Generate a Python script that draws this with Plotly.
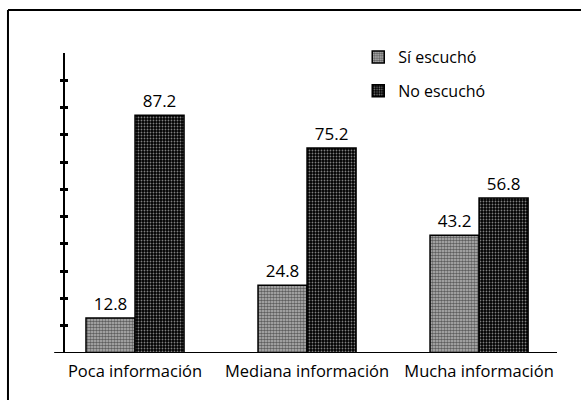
import plotly.graph_objects as go

categories = ["Poca información", "Mediana información", "Mucha información"]
si_escucho = [12.8, 24.8, 43.2]
no_escucho = [87.2, 75.2, 56.8]
series_names = ["Sí escuchó", "No escuchó"]
y_ticks = [10, 20, 30, 40, 50, 60, 70, 80, 90, 100]

FONT = "Open Sans"

fig = go.Figure()
fig.add_trace(go.Bar(
    x=categories, y=si_escucho, name=series_names[0],
    text=[f"{v:.1f}" for v in si_escucho], textposition="outside",
    textfont=dict(size=17, color="black", family=FONT),
    marker=dict(color="white", line=dict(color="black", width=1.5),
                pattern=dict(shape=".", fgcolor="black", bgcolor="#bdbdbd", size=3, solidity=0.6)),
    cliponaxis=False, legendgroup="a",
))
fig.add_trace(go.Bar(
    x=categories, y=no_escucho, name=series_names[1],
    text=[f"{v:.1f}" for v in no_escucho], textposition="outside",
    textfont=dict(size=17, color="black", family=FONT),
    marker=dict(color="black", line=dict(color="black", width=1.5),
                pattern=dict(shape=".", fgcolor="white", bgcolor="black", size=3, solidity=0.3)),
    cliponaxis=False, legendgroup="b",
))
# invisible trace to carry inside ticks on an overlaid axis
fig.add_trace(go.Scatter(x=[categories[0]], y=[0], yaxis="y2", mode="markers",
                         marker=dict(opacity=0), showlegend=False, hoverinfo="skip"))

L, R, T, B = 65, 581 - 557, 53, 47
fig.update_layout(
    width=581, height=400,
    margin=dict(l=L, r=R, t=T, b=B, pad=0, autoexpand=False),
    paper_bgcolor="white", plot_bgcolor="white",
    font=dict(family=FONT, size=16, color="black"),
    barmode="group", bargap=0.43, bargroupgap=0,
    showlegend=True,
    legend=dict(x=0.596, y=1.043, xanchor="left", yanchor="top", bgcolor="rgba(0,0,0,0)",
                font=dict(size=16, family=FONT), tracegroupgap=10, itemwidth=30),
    xaxis=dict(range=[-0.407, 2.453], showgrid=False, zeroline=False, showline=False,
               automargin=False,
               ticks="", ticklabelstandoff=6, tickfont=dict(size=16.5, family=FONT)),
    yaxis=dict(range=[0, 110], showgrid=False, zeroline=False, showline=True, automargin=False,
               linecolor="black", linewidth=1.5, tickvals=y_ticks, ticks="outside",
               ticklen=3, tickwidth=2.5, tickcolor="black", showticklabels=False),
    yaxis2=dict(range=[0, 110], overlaying="y", side="left", showgrid=False, zeroline=False,
                automargin=False,
                showline=False, tickvals=y_ticks, ticks="inside", ticklen=3, tickwidth=2.5,
                tickcolor="black", showticklabels=False),
    shapes=[
        dict(type="line", xref="paper", yref="y", x0=-0.022, x1=1.0, y0=0, y1=0,
             line=dict(color="black", width=2)),
        dict(type="line", xref="paper", yref="y", x0=0, x1=0, y0=0, y1=-1.8,
             line=dict(color="black", width=1.5)),
        dict(type="line", xref="paper", yref="paper", x0=-0.1159, x1=1.1, y0=1.1433, y1=1.1433,
             line=dict(color="black", width=2)),
        dict(type="line", xref="paper", yref="paper", x0=-0.1159, x1=-0.1159, y0=1.1433, y1=-0.2,
             line=dict(color="black", width=2)),
    ],
)

fig.write_html("out.html", config={"displayModeBar": False},
               post_script="document.body.style.margin='0';")
